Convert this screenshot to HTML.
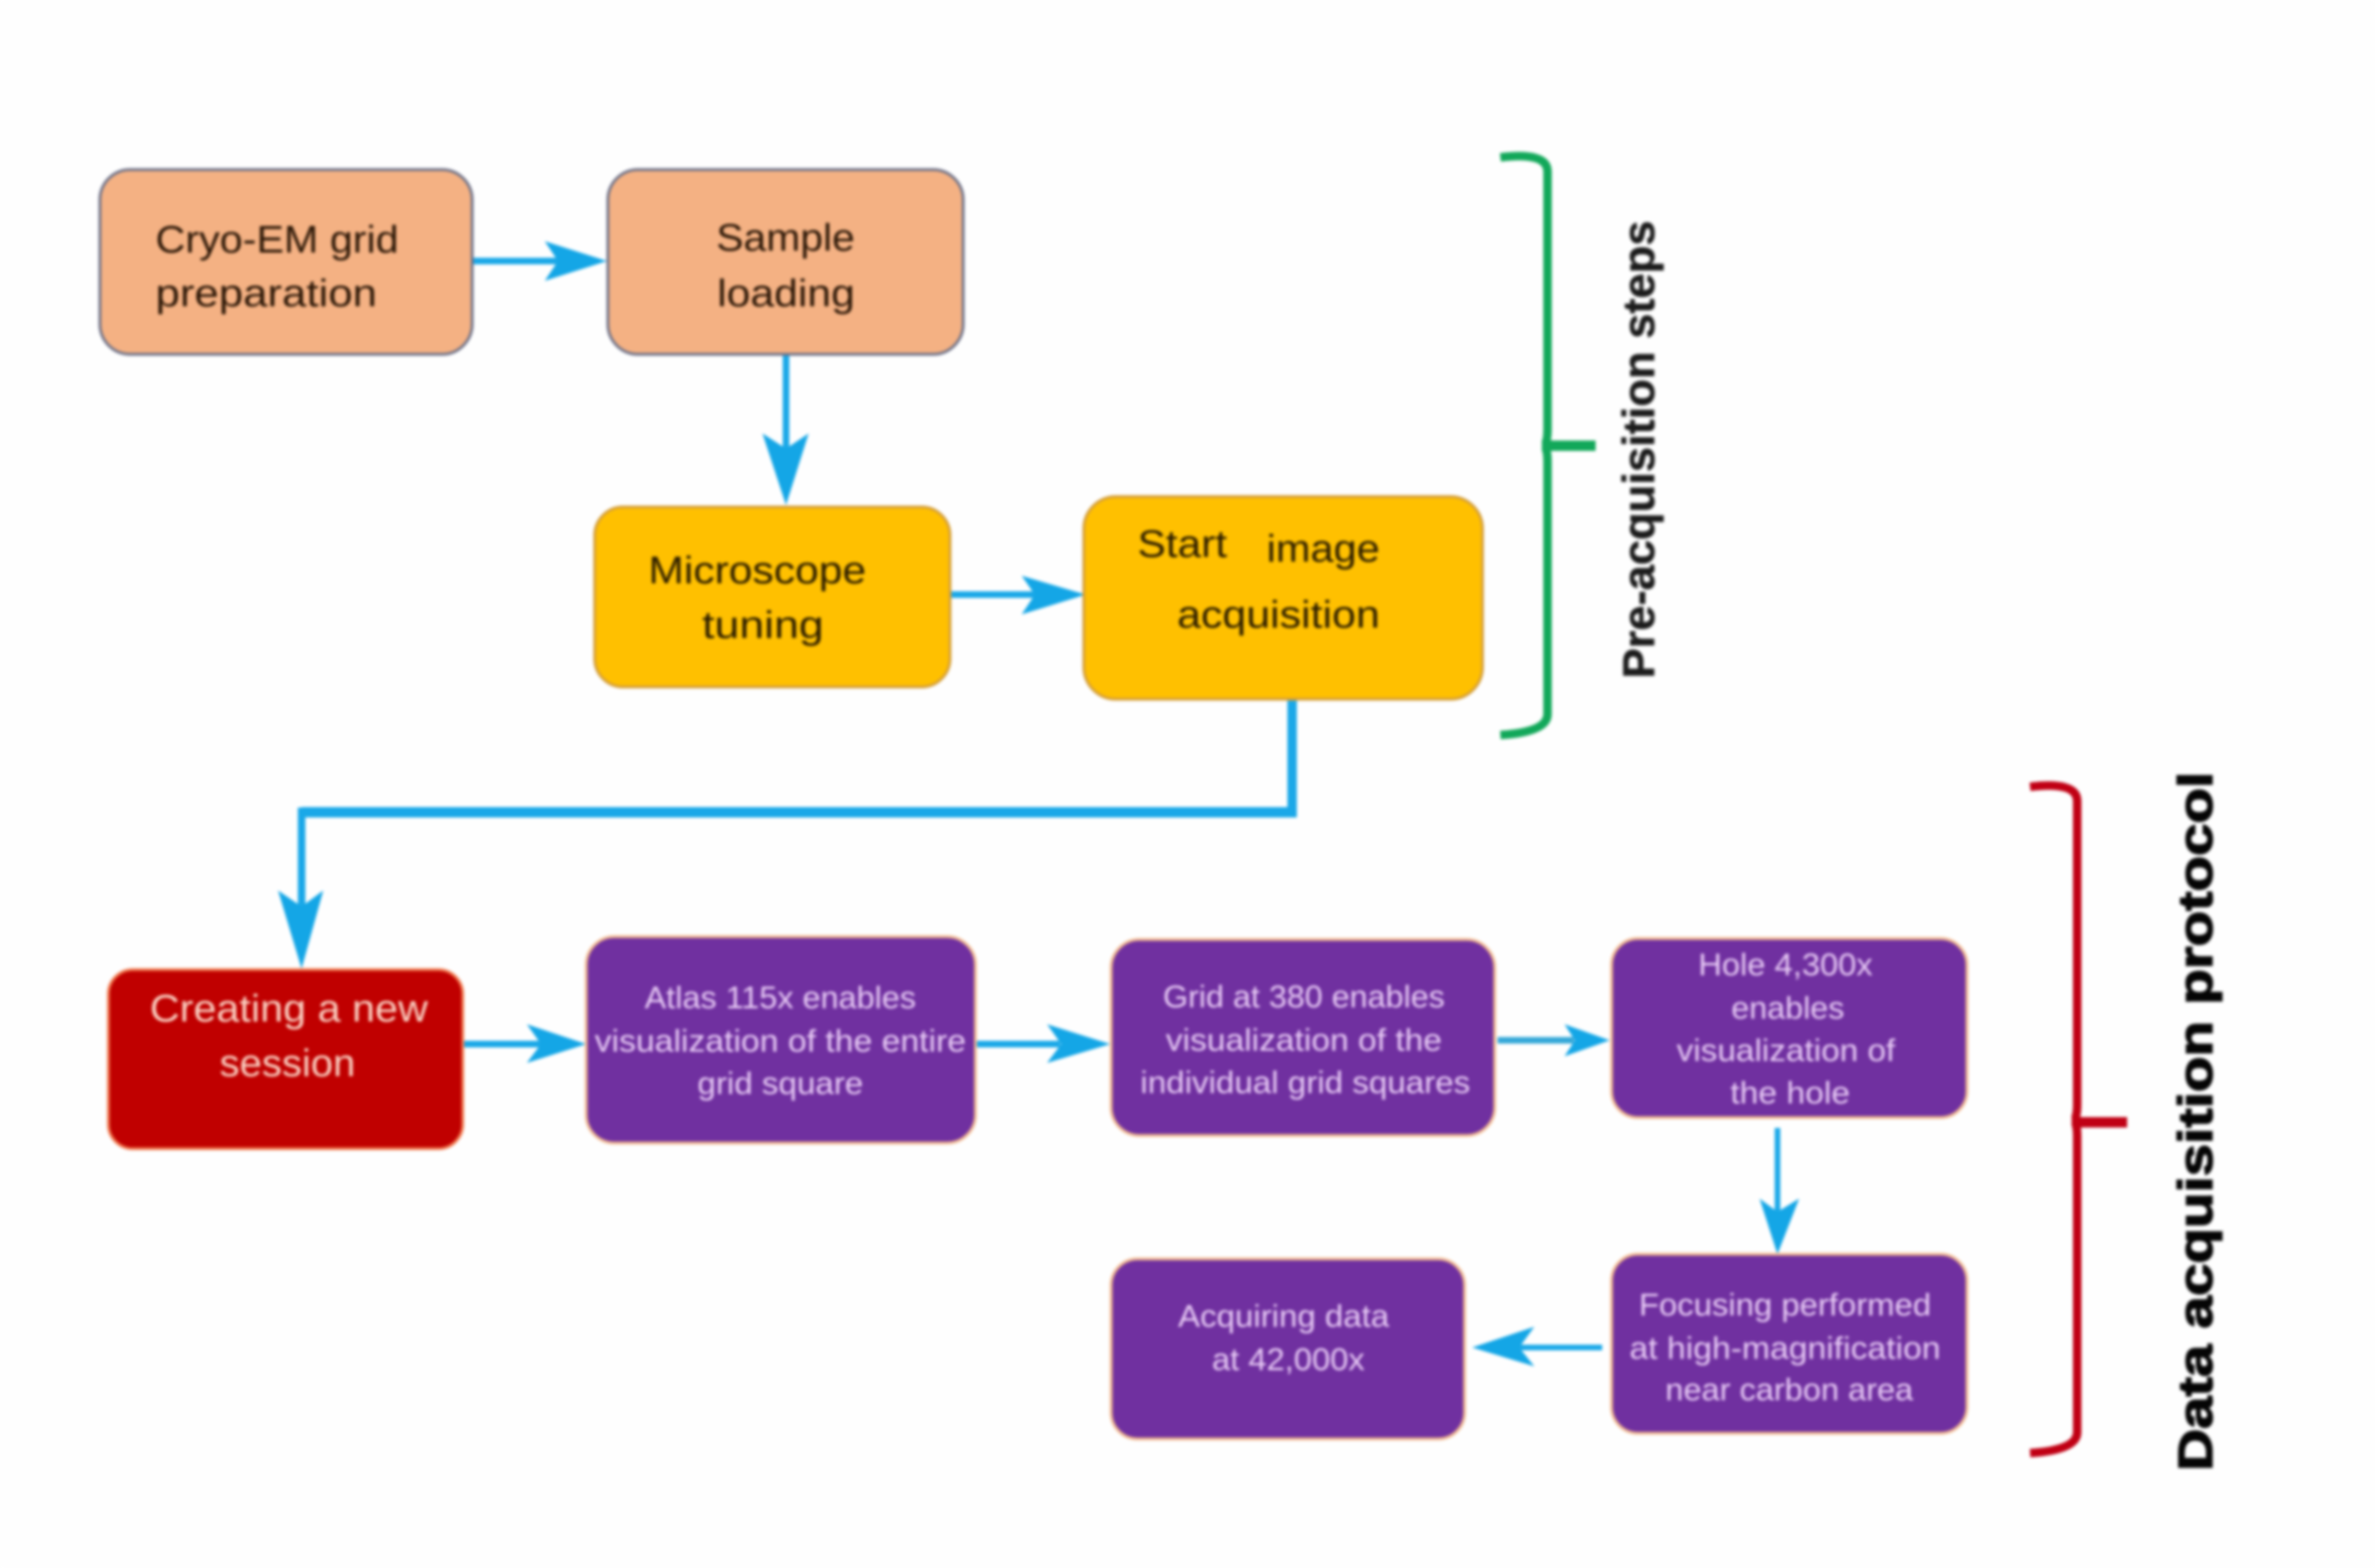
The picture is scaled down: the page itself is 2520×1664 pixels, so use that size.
<!DOCTYPE html>
<html>
<head>
<meta charset="utf-8">
<style>
html,body{margin:0;padding:0;background:#fefefe;width:2520px;height:1664px;overflow:hidden}
svg{display:block;filter:blur(1.5px)}
text{font-family:"Liberation Sans",sans-serif}
.d{font-size:41px;fill:#2a1606;-webkit-text-stroke:1px #2a1606}
.y{font-size:41px;fill:#2a1c00;-webkit-text-stroke:1px #2a1c00}
.r{font-size:41px;fill:#fbd3c4;-webkit-text-stroke:.6px #fbd3c4}
.p{font-size:33px;fill:#e9cdf6;-webkit-text-stroke:.7px #e9cdf6}
</style>
</head>
<body>
<svg width="2520" height="1664" viewBox="0 0 2520 1664" xmlns="http://www.w3.org/2000/svg">
<rect width="2520" height="1664" fill="#fefefe"/>

<!-- connectors -->
<g stroke="#1aa8e8" fill="none">
<path d="M500 277H610" stroke-width="7"/>
<path d="M834 376V480" stroke-width="7"/>
<path d="M1008 631H1100" stroke-width="7"/>
<path d="M1371 742V860" stroke-width="10"/>
<path d="M1376 862H320" stroke-width="11"/>
<path d="M320 857V965" stroke-width="8"/>
<path d="M491 1108H575" stroke-width="7"/>
<path d="M1035 1108H1125" stroke-width="7"/>
<path d="M1589 1104H1670" stroke-width="7" stroke="#35a8d8"/>
<path d="M1886 1197V1290" stroke-width="6"/>
<path d="M1700 1430H1610" stroke-width="6"/>
</g>
<g fill="#14a6e6">
<polygon points="644,277 578,256 592,277 578,298"/>
<polygon points="834,536 809,460 834,476 858,460"/>
<polygon points="1152,631 1084,611 1098,631 1084,652"/>
<polygon points="320,1028 295,945 320,962 343,945"/>
<polygon points="622,1108 559,1087 574,1108 559,1128"/>
<polygon points="1178,1108 1111,1087 1126,1108 1111,1128"/>
<polygon points="1708,1104 1660,1087 1671,1104 1660,1121"/>
<polygon points="1886,1331 1867,1272 1886,1286 1909,1272"/>
<polygon points="1562,1430 1628,1408 1612,1430 1628,1450"/>
</g>

<!-- boxes -->
<g stroke-width="3">
<rect x="106" y="180" width="395" height="196" rx="32" fill="#f4b183" stroke="#6f7288"/>
<rect x="645" y="180" width="377" height="196" rx="32" fill="#f4b183" stroke="#6f7288"/>
<rect x="631" y="538" width="377" height="191" rx="30" fill="#ffc000" stroke="#d59f3a"/>
<rect x="1150" y="527" width="423" height="215" rx="34" fill="#ffc000" stroke="#d59f3a"/>
<rect x="115" y="1029" width="376" height="190" rx="26" fill="#c00000" stroke="#f07a50"/>
<rect x="622" y="994" width="413" height="219" rx="30" fill="#7030a0" stroke="#f0b890"/>
<rect x="1179" y="997" width="407" height="208" rx="30" fill="#7030a0" stroke="#f0b890"/>
<rect x="1710" y="996" width="377" height="190" rx="28" fill="#7030a0" stroke="#f0b890"/>
<rect x="1710" y="1331" width="377" height="190" rx="28" fill="#7030a0" stroke="#f0b890"/>
<rect x="1179" y="1336" width="375" height="191" rx="28" fill="#7030a0" stroke="#f0b890"/>
</g>

<!-- braces -->
<path d="M1599 167Q1649 161 1649 182V455Q1649 472 1644 473Q1649 474 1649 490V758Q1649 777 1599 780" fill="none" stroke="#12a85a" stroke-width="9" transform="translate(-7 0)"/>
<path d="M1636 473H1693" stroke="#12a85a" stroke-width="11" fill="none"/>
<path d="M2163 835Q2213 829 2213 850V1172Q2213 1188 2208 1189Q2213 1190 2213 1206V1520Q2213 1539 2163 1542" fill="none" stroke="#c00014" stroke-width="9" transform="translate(-9 0)"/>
<path d="M2201 1191H2257" stroke="#c00014" stroke-width="11" fill="none"/>

<!-- labels -->
<text class="d" x="165" y="268" textLength="258" lengthAdjust="spacingAndGlyphs">Cryo-EM grid</text>
<text class="d" x="165" y="325" textLength="235" lengthAdjust="spacingAndGlyphs">preparation</text>
<text class="d" x="760" y="266" textLength="147" lengthAdjust="spacingAndGlyphs">Sample</text>
<text class="d" x="761" y="325" textLength="146" lengthAdjust="spacingAndGlyphs">loading</text>
<text class="y" x="688" y="619" textLength="231" lengthAdjust="spacingAndGlyphs">Microscope</text>
<text class="y" x="745" y="677" textLength="129" lengthAdjust="spacingAndGlyphs">tuning</text>
<text class="y" x="1207" y="591" textLength="95" lengthAdjust="spacingAndGlyphs">Start</text>
<text class="y" x="1344" y="596" textLength="120" lengthAdjust="spacingAndGlyphs">image</text>
<text class="y" x="1249" y="666" textLength="215" lengthAdjust="spacingAndGlyphs">acquisition</text>
<text class="r" x="159" y="1084" textLength="295" lengthAdjust="spacingAndGlyphs">Creating a new</text>
<text class="r" x="233" y="1142" textLength="144" lengthAdjust="spacingAndGlyphs">session</text>
<text class="p" x="684" y="1070" textLength="288" lengthAdjust="spacingAndGlyphs">Atlas 115x enables</text>
<text class="p" x="631" y="1116" textLength="394" lengthAdjust="spacingAndGlyphs">visualization of the entire</text>
<text class="p" x="740" y="1161" textLength="176" lengthAdjust="spacingAndGlyphs">grid square</text>
<text class="p" x="1234" y="1069" textLength="299" lengthAdjust="spacingAndGlyphs">Grid at 380 enables</text>
<text class="p" x="1237" y="1115" textLength="293" lengthAdjust="spacingAndGlyphs">visualization of the</text>
<text class="p" x="1210" y="1160" textLength="350" lengthAdjust="spacingAndGlyphs">individual grid squares</text>
<text class="p" x="1802" y="1035" textLength="185" lengthAdjust="spacingAndGlyphs">Hole 4,300x</text>
<text class="p" x="1837" y="1081" textLength="120" lengthAdjust="spacingAndGlyphs">enables</text>
<text class="p" x="1779" y="1126" textLength="232" lengthAdjust="spacingAndGlyphs">visualization of</text>
<text class="p" x="1836" y="1171" textLength="127" lengthAdjust="spacingAndGlyphs">the hole</text>
<text class="p" x="1739" y="1396" textLength="310" lengthAdjust="spacingAndGlyphs">Focusing performed</text>
<text class="p" x="1729" y="1442" textLength="330" lengthAdjust="spacingAndGlyphs">at high-magnification</text>
<text class="p" x="1767" y="1486" textLength="263" lengthAdjust="spacingAndGlyphs">near carbon area</text>
<text class="p" x="1250" y="1408" textLength="224" lengthAdjust="spacingAndGlyphs">Acquiring data</text>
<text class="p" x="1286" y="1454" textLength="162" lengthAdjust="spacingAndGlyphs">at 42,000x</text>

<text transform="translate(1755,720) rotate(-90)" x="0" y="0" font-size="47" font-weight="700" fill="#1c1c1c" stroke="#1c1c1c" stroke-width=".6" textLength="486" lengthAdjust="spacingAndGlyphs">Pre-acquisition steps</text>
<text transform="translate(2347,1561) rotate(-90)" x="0" y="0" font-size="51" font-weight="700" fill="#050505" stroke="#050505" stroke-width="1.5" textLength="742" lengthAdjust="spacingAndGlyphs">Data acquisition protocol</text>
</svg>
</body>
</html>
